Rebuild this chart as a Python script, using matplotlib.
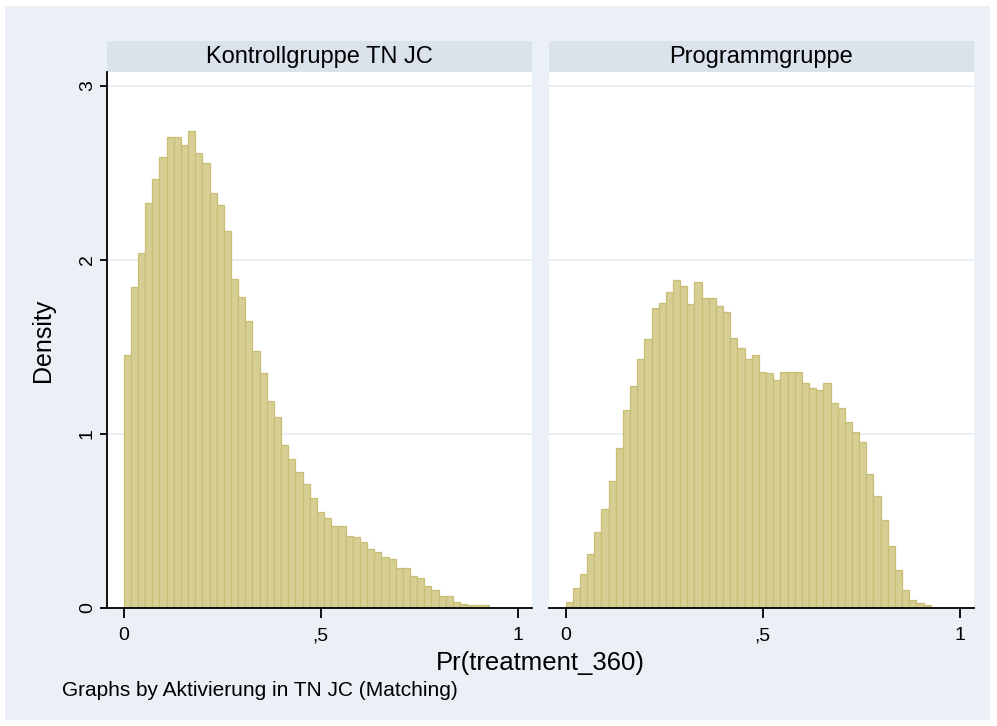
import matplotlib.pyplot as plt
from matplotlib.patches import Rectangle

plt.rcParams['font.family'] = ['Liberation Sans', 'DejaVu Sans']

# histogram bins (Stata by() uses common bins)
bin_start = 0.0
bin_width = 0.01815

# density per bin
kontroll = [1.452, 1.843, 2.040, 2.326, 2.466, 2.592, 2.705, 2.705, 2.663, 2.741,
            2.617, 2.557, 2.385, 2.316, 2.165, 1.889, 1.787, 1.649, 1.475, 1.349,
            1.188, 1.096, 0.935, 0.854, 0.783, 0.713, 0.634, 0.554, 0.519, 0.473,
            0.473, 0.416, 0.406, 0.379, 0.337, 0.324, 0.291, 0.280, 0.232, 0.232,
            0.186, 0.174, 0.126, 0.105, 0.071, 0.071, 0.036, 0.023, 0.015, 0.015,
            0.015]
programm = [0.036, 0.117, 0.197, 0.312, 0.439, 0.567, 0.728, 0.921, 1.140, 1.278,
            1.429, 1.544, 1.726, 1.751, 1.818, 1.885, 1.852, 1.748, 1.875, 1.784,
            1.784, 1.736, 1.703, 1.554, 1.496, 1.429, 1.452, 1.358, 1.349, 1.310,
            1.358, 1.358, 1.358, 1.291, 1.266, 1.255, 1.291, 1.176, 1.152, 1.071,
            1.010, 0.952, 0.770, 0.644, 0.506, 0.358, 0.218, 0.103, 0.046, 0.027,
            0.015]

titles = ['Kontrollgruppe TN JC', 'Programmgruppe']
xticks = [0, 0.5, 1]
xticklabels = ['0', ',5', '1']
yticks = [0, 1, 2, 3]

bg = '#EAF0F5'
strip_col = '#DAE3EC'
bar_fill = '#D6CE92'
bar_edge = '#C9BE76'

fig = plt.figure(figsize=(9.97, 7.26), dpi=100)
fig.patch.set_facecolor('white')
fig.patches.append(Rectangle((5 / 997, 6 / 726), 985 / 997, 714 / 726,
                             transform=fig.transFigure, facecolor=bg,
                             edgecolor='none', zorder=-10))

ax_w = 0.4258
ax_b = 0.1625
ax_h = 0.7383
lefts = [107 / 997, 549 / 997]

for i, (vals, title) in enumerate(zip([kontroll, programm], titles)):
    ax = fig.add_axes([lefts[i], ax_b, ax_w, ax_h])
    edges = [bin_start + k * bin_width for k in range(len(vals))]
    ax.bar(edges, vals, width=bin_width, align='edge', color=bar_fill,
           edgecolor=bar_edge, linewidth=0.9, zorder=2)
    ax.set_xlim(-0.042, 1.034)
    ax.set_ylim(0, 3.08)
    ax.set_facecolor('white')
    for yv in yticks[1:]:
        ax.axhline(yv, color='#E8EEF4', linewidth=1.3, zorder=1)
    for s in ['top', 'right']:
        ax.spines[s].set_visible(False)
    ax.spines['bottom'].set_linewidth(1.3)
    ax.set_xticks(xticks)
    ax.set_xticklabels(xticklabels, fontsize=14)
    ax.tick_params(axis='x', length=7, width=1.3, pad=7)
    if i == 0:
        ax.spines['left'].set_linewidth(1.3)
        ax.set_yticks(yticks)
        ax.set_yticklabels([str(v) for v in yticks], fontsize=14,
                           rotation=90, va='center')
        ax.tick_params(axis='y', length=5, width=1.3, pad=3)
        ax.set_ylabel('Density', fontsize=18, labelpad=17)
    else:
        ax.spines['left'].set_visible(False)
        ax.set_yticks(yticks)
        ax.tick_params(axis='y', length=0, labelleft=False)
    # strip header
    ax.add_patch(Rectangle((0, 1.0), 1, 31 / 536, transform=ax.transAxes,
                           facecolor=strip_col, edgecolor='none', clip_on=False))
    ax.text(0.5, 1.0 + 15.5 / 536, title, transform=ax.transAxes,
            ha='center', va='center', fontsize=17)

fig.text(540 / 997, 1 - 663 / 726, 'Pr(treatment_360)', ha='center',
         va='center', fontsize=18.5)
fig.text(62 / 997, 1 - 690 / 726, 'Graphs by Aktivierung in TN JC (Matching)',
         ha='left', va='center', fontsize=15)

fig.savefig('out.png', dpi=100, facecolor=fig.get_facecolor())
